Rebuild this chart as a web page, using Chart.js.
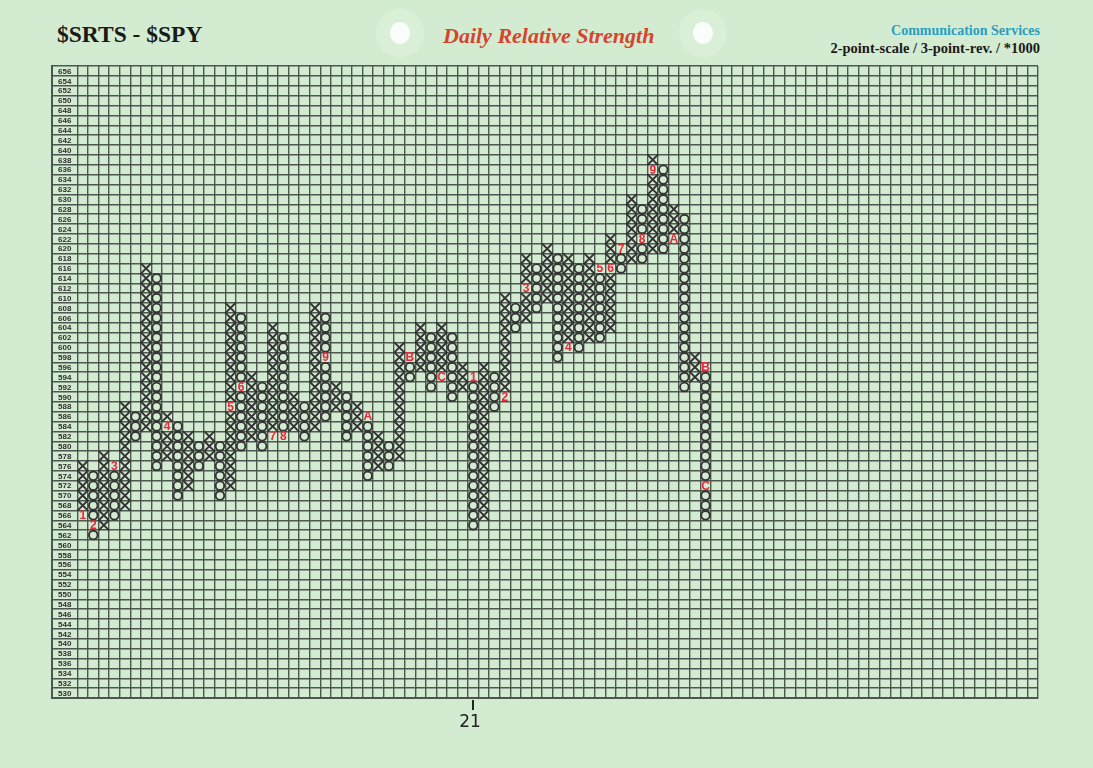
<!DOCTYPE html>
<html><head><meta charset="utf-8">
<script src="https://cdn.jsdelivr.net/npm/chart.js@4.4.1/dist/chart.umd.min.js"></script>
<style>
html,body{margin:0;padding:0;background:#d3ebd1;width:1093px;height:768px;overflow:hidden;position:relative;}
#c{position:absolute;left:0;top:0;}
.t{position:absolute;white-space:nowrap;line-height:1;}
.hole{position:absolute;border-radius:50%;}
</style></head><body>
<div class="hole" style="left:376px;top:9px;width:48px;height:48px;background:#daefd7"></div>
<div class="hole" style="left:390px;top:22px;width:20px;height:22px;background:#fbfdfb"></div>
<div class="hole" style="left:679px;top:9px;width:48px;height:48px;background:#daefd7"></div>
<div class="hole" style="left:693px;top:22px;width:20px;height:22px;background:#fbfdfb"></div>
<div class="t" style="left:57px;top:21px;font:bold 23.5px 'Liberation Serif';color:#1a1a1a">$SRTS - $SPY</div>
<div class="t" style="left:443px;top:23px;font:italic bold 22px 'Liberation Serif';color:#d4452e">Daily Relative Strength</div>
<div class="t" style="right:53px;top:23px;font:bold 14px 'Liberation Serif';color:#2a9ec0">Communication Services</div>
<div class="t" style="right:53px;top:40px;font:bold 14.5px 'Liberation Serif';color:#1a1a1a">2-point-scale / 3-point-rev. / *1000</div>
<canvas id="c" width="1093" height="768"></canvas>
<script>
// ---- Point & figure columns (box = 2, values *1000) ----
const colType = ['X','O','X','O','X','O','X','O','X','O',
                 'X','O','X','O','X','O','X','O','X','O',
                 'X','O','X','O','X','O','X','O','X','O',
                 'X','O','X','O','X','O','X','O','X','O',
                 'X','O','X','O','X','O','X','O','X','O',
                 'X','O','X','O','X','O','X','O','X','O'];
const colLow  = [566,562,564,566,568,582,584,576,578,570,
                 572,576,578,570,572,580,582,580,582,582,
                 584,582,584,586,588,582,584,574,576,576,
                 578,594,596,592,594,590,592,564,566,588,
                 590,604,606,608,610,598,600,600,602,602,
                 604,616,618,618,620,620,622,592,594,566];
const colHigh = [576,574,578,576,588,586,616,614,586,584,
                 582,580,582,580,608,606,594,592,604,602,
                 590,588,608,606,592,590,588,586,582,580,
                 600,598,604,602,604,602,596,594,596,594,
                 610,608,618,616,620,618,618,616,618,616,
                 622,620,630,628,638,636,628,626,598,596];
// month markers (replace the box they sit in)
const monthCol  = [0,1,3,8,14,15,18,19,23,27,31,34,37,40,42,46,49,50,51,53,54,56,59,59];
const monthVal  = [566,564,576,584,588,592,582,582,598,586,598,594,594,590,612,600,616,616,620,622,636,622,596,572];
const monthText = ['1','2','3','4','5','6','7','8','9','A','B','C','1','2','3','4','5','6','7','8','9','A','B','C'];
// row (tick) labels
const rowLabels = [656,654,652,650,648,646,644,642,640,638,636,634,632,630,628,626,
                   624,622,620,618,616,614,612,610,608,606,604,602,600,598,596,594,
                   592,590,588,586,584,582,580,578,576,574,572,570,568,566,564,562,
                   560,558,556,554,552,550,548,546,544,542,540,538,536,534,532,530];
const yearCol = [37];
const yearText = ['21'];

const BOX = 2, NCOLS = 91, LABW = 2.41;
const YMIN = 529, YMAX = 657;
const GRID = '#4c5750';
const INK = '#333333';

const markKey = new Set(monthCol.map((c,i)=>c+':'+monthVal[i]));
const xPts = [], oPts = [];
colType.forEach((t,i)=>{
  for(let v=colLow[i]; v<=colHigh[i]; v+=BOX){
    if(markKey.has(i+':'+v)) continue;
    (t==='X'?xPts:oPts).push({x:i+0.5, y:v});
  }
});

const pfText = {
  id:'pfText',
  beforeDatasetsDraw(chart){
    const {ctx, scales:{x,y}} = chart;
    ctx.save();
    ctx.fillStyle = '#2e2e2e';
    ctx.font = 'bold 8px "Liberation Sans"';
    ctx.textAlign = 'center'; ctx.textBaseline = 'middle';
    const lx = x.getPixelForValue(-LABW/2);
    rowLabels.forEach(v=>ctx.fillText(String(v), lx, y.getPixelForValue(v)+0.5));
    ctx.restore();
  },
  afterDatasetsDraw(chart){
    const {ctx, scales:{x,y}, chartArea} = chart;
    ctx.save();
    ctx.fillStyle = '#e8283a';
    ctx.font = 'bold 12px "Liberation Sans"';
    ctx.textAlign = 'center'; ctx.textBaseline = 'middle';
    monthText.forEach((t,i)=>ctx.fillText(t, x.getPixelForValue(monthCol[i]+0.5), y.getPixelForValue(monthVal[i])+0.5));
    // year tick
    ctx.strokeStyle = '#222'; ctx.lineWidth = 2; ctx.fillStyle = '#222';
    ctx.font = '17px "DejaVu Sans"';
    ctx.textBaseline = 'top';
    yearCol.forEach((c,i)=>{
      const px = Math.round(x.getPixelForValue(c+0.5));
      ctx.beginPath(); ctx.moveTo(px, chartArea.bottom+2); ctx.lineTo(px, chartArea.bottom+12); ctx.stroke();
      ctx.fillText(yearText[i], px-3, chartArea.bottom+16);
    });
    ctx.restore();
  }
};

new Chart(document.getElementById('c'), {
  type:'scatter',
  data:{datasets:[
    {data:xPts, pointStyle:'crossRot', pointRadius:7.4, pointBorderWidth:1.9, pointBorderColor:INK, pointBackgroundColor:'transparent', pointHoverRadius:7.4},
    {data:oPts, pointStyle:'circle', pointRadius:4.3, pointBorderWidth:1.9, pointBorderColor:INK, pointBackgroundColor:'transparent', pointHoverRadius:4.3}
  ]},
  options:{
    responsive:false, animation:false, events:[],
    layout:{padding:{left:52, right:55, top:66, bottom:70}},
    plugins:{legend:{display:false}, tooltip:{enabled:false}, title:{display:false}},
    scales:{
      x:{type:'linear', min:-LABW, max:NCOLS,
         afterBuildTicks:s=>{ const t=[{value:-LABW}]; for(let i=0;i<=NCOLS;i++) t.push({value:i}); s.ticks=t; },
         ticks:{display:false}, grid:{color:GRID, lineWidth:1.4, drawTicks:false},
         border:{color:GRID, width:2}},
      y:{type:'linear', min:YMIN, max:YMAX,
         afterBuildTicks:s=>{ const t=[]; for(let v=YMIN; v<=YMAX; v+=BOX) t.push({value:v}); s.ticks=t; },
         ticks:{display:false}, grid:{color:GRID, lineWidth:1.4, drawTicks:false},
         border:{color:GRID, width:2}}
    }
  },
  plugins:[pfText]
});
</script>
</body></html>
